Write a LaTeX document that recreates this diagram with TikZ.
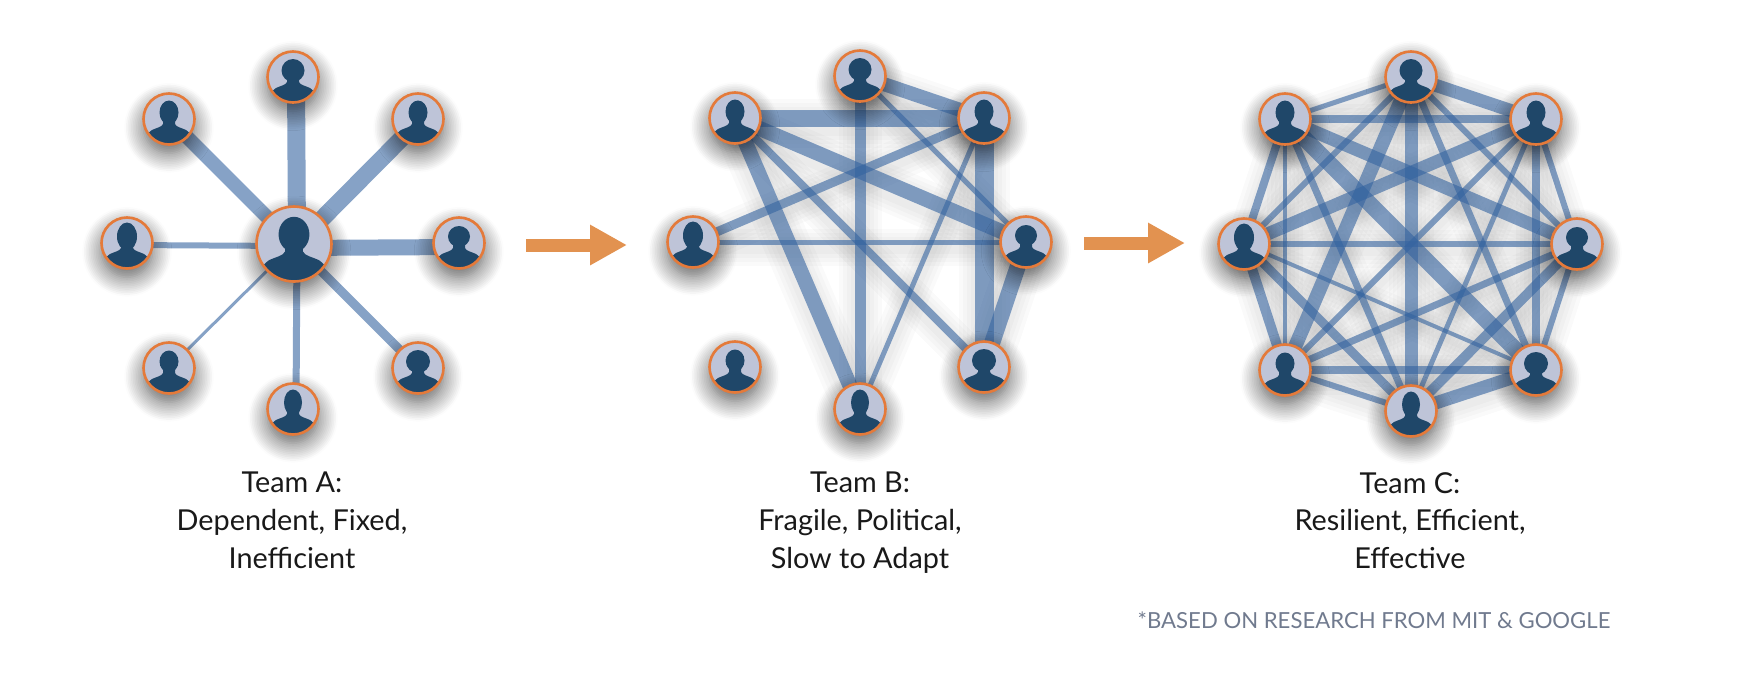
\documentclass[tikz,border=0pt]{standalone}
\usepackage{fontspec}
\setmainfont{Lato}
\usepackage{tikz}
\usetikzlibrary{arrows.meta,backgrounds,shadows.blur}
\definecolor{ringorange}{RGB}{228,122,58}
\definecolor{arroworange}{RGB}{226,146,80}
\definecolor{facegrey}{RGB}{190,196,216}
\definecolor{bustblue}{RGB}{31,71,105}
\definecolor{tieblue}{RGB}{53,100,160}
\definecolor{noteslate}{RGB}{112,122,142}
\pgfdeclarelayer{glowlayer}
\pgfsetlayers{glowlayer,background,main}
% head half width, head half height, size factor
\newcommand{\bust}[3]{%
    \begin{scope}[shift={(path picture bounding box.center)}, x=#3*0.02cm, y=#3*0.02cm]
        \fill[bustblue] (0,6.5) ellipse ({#1} and {#2});
        \fill[bustblue] (-6,2) -- (-6,-5) .. controls (-7,-8) and (-13,-9) .. (-17,-11)
            .. controls (-20,-13) and (-22,-15) .. (-30,-30) -- (30,-30)
            .. controls (22,-15) and (20,-13) .. (17,-11)
            .. controls (13,-9) and (7,-8) .. (6,-5) -- (6,2) -- cycle;
    \end{scope}}
\newcommand{\tie}[4][0,0]{%
    \begin{pgfonlayer}{background}
        \draw[tieline, line width=#4*0.02cm] ([shift={(#1)}]#2.center) -- ([shift={(#1)}]#3.center);
    \end{pgfonlayer}}
\newcommand{\gtie}[3]{%
    \begin{pgfonlayer}{glowlayer}
        \draw[tieglow, line width=(#3+8)*0.02cm] ([shift={(0,5)}]#1.center) -- ([shift={(0,5)}]#2.center);
        \draw[tieglow, line width=(#3+16)*0.02cm] ([shift={(0,5)}]#1.center) -- ([shift={(0,5)}]#2.center);
        \draw[tieglow, line width=(#3+24)*0.02cm] ([shift={(0,5)}]#1.center) -- ([shift={(0,5)}]#2.center);
        \draw[tieglow, line width=(#3+32)*0.02cm] ([shift={(0,5)}]#1.center) -- ([shift={(0,5)}]#2.center);
    \end{pgfonlayer}
    \tie{#1}{#2}{#3}}
\tikzset{
    person/.style n args={3}{circle, draw=ringorange, line width=1.5pt, fill=facegrey,
        inner sep=0pt, minimum size=#3*51*0.02cm,
        blur shadow={shadow xshift=0pt, shadow yshift=-5pt, shadow blur radius=11pt,
            shadow blur steps=12, shadow opacity=65},
        path picture={\bust{#1}{#2}{#3}}},
    tieline/.style={draw=tieblue, draw opacity=0.6},
    tieglow/.style={draw=black, draw opacity=0.02},
    teamlabel/.style={anchor=north, align=center, font=\fontsize{16.4}{21.5}\selectfont, text=black!90},
    movearrow/.style={draw=arroworange, line width=13*0.02cm,
        -{Triangle[length=37*0.02cm, width=38*0.02cm]}}
}
\begin{document}
\begin{tikzpicture}[x=0.02cm, y=-0.02cm]
    \useasboundingbox (0,0) rectangle (1744,674);

    % Team A
    \node[person={10.5}{12}{1.47}] (ac) at (294,244) {};
    \node[person={11.5}{11.5}{1}] (at) at (293,77) {};
    \node[person={9.5}{12}{1}] (aul) at (169,119) {};
    \node[person={9.5}{12}{1}] (aur) at (418,119) {};
    \node[person={10}{14}{1}] (al) at (127,243) {};
    \node[person={11}{10.5}{1}] (ar) at (459,243) {};
    \node[person={9.5}{11}{1}] (all) at (169,368) {};
    \node[person={12}{11.5}{1}] (alr) at (418,368) {};
    \node[person={9}{13}{1}] (ab) at (293,409) {};

    % Team B
    \node[person={11.5}{11.5}{1}] (bt) at (860,76) {};
    \node[person={9.5}{12}{1}] (bul) at (735,118) {};
    \node[person={9.5}{12}{1}] (bur) at (984,118) {};
    \node[person={10}{14}{1}] (bl) at (693,242) {};
    \node[person={11}{10.5}{1}] (br) at (1026,242) {};
    \node[person={9.5}{11}{1}] (bll) at (735,367) {};
    \node[person={12}{11.5}{1}] (blr) at (984,367) {};
    \node[person={9}{13}{1}] (bb) at (860,409) {};

    % Team C
    \node[person={11.5}{11.5}{1}] (ct) at (1411,77) {};
    \node[person={9.5}{12}{1}] (cul) at (1285,119) {};
    \node[person={9.5}{12}{1}] (cur) at (1536,119) {};
    \node[person={10}{14}{1}] (cl) at (1244,244) {};
    \node[person={11}{10.5}{1}] (cr) at (1577,244) {};
    \node[person={9.5}{11}{1}] (cll) at (1285,370) {};
    \node[person={12}{11.5}{1}] (clr) at (1536,370) {};
    \node[person={9}{13}{1}] (cb) at (1411,411) {};

    % ties
    \tie[3,0]{ac}{at}{18}
    \tie{ac}{aul}{14}
    \tie[1,2]{ac}{aur}{17}
    \tie[0,2]{ac}{al}{6}
    \tie[0,4]{ac}{ar}{16}
    \tie{ac}{all}{3}
    \tie[3,0]{ac}{ab}{7}
    \tie{ac}{alr}{9}

    \gtie{bt}{bur}{14}
    \gtie{bul}{bur}{17}
    \gtie{bt}{bb}{11}
    \gtie{bul}{br}{15}
    \gtie{bul}{bb}{15}
    \gtie{bul}{blr}{8}
    \gtie{bl}{bur}{9}
    \gtie{bl}{br}{5}
    \gtie{bt}{br}{5}
    \gtie{bur}{bb}{5}
    \gtie{bur}{blr}{19}
    \gtie{br}{blr}{16}

    \gtie{ct}{cul}{5}
    \gtie{ct}{cur}{13}
    \gtie{ct}{cl}{6}
    \gtie{ct}{cr}{6}
    \gtie{ct}{cll}{14}
    \gtie{ct}{clr}{7}
    \gtie{ct}{cb}{13}
    \gtie{cul}{cur}{8}
    \gtie{cul}{cl}{8}
    \gtie{cul}{cr}{13}
    \gtie{cul}{cll}{4}
    \gtie{cul}{clr}{16}
    \gtie{cul}{cb}{7}
    \gtie{cur}{cl}{13}
    \gtie{cur}{cr}{6}
    \gtie{cur}{cll}{6}
    \gtie{cur}{clr}{8}
    \gtie{cur}{cb}{5}
    \gtie{cl}{cr}{6}
    \gtie{cl}{cll}{10}
    \gtie{cl}{clr}{4}
    \gtie{cl}{cb}{9}
    \gtie{cr}{cll}{7}
    \gtie{cr}{clr}{6}
    \gtie{cr}{cb}{10}
    \gtie{cll}{clr}{8}
    \gtie{cll}{cb}{6}
    \gtie{clr}{cb}{13}

    % arrows between the teams
    \coordinate (movea) at (526,245);
    \coordinate (moveb) at (627,245);
    \coordinate (movec) at (1084,243);
    \coordinate (moved) at (1185,243);
    \draw[movearrow] (movea) -- (moveb);
    \draw[movearrow] (movec) -- (moved);

    % labels
    \node[teamlabel] (labela) at (292,466) {Team A:\\Dependent, Fixed,\\Inefficient};
    \node[teamlabel] (labelb) at (860,466) {Team B:\\Fragile, Political,\\Slow to Adapt};
    \node[teamlabel] (labelc) at (1410,466) {Team C:\\Resilient, Efficient,\\Effective};
    \node[text=noteslate, font=\fontsize{12.6}{15}\selectfont] (note) at (1374,620) {*BASED ON RESEARCH FROM MIT \& GOOGLE};
\end{tikzpicture}
\end{document}
